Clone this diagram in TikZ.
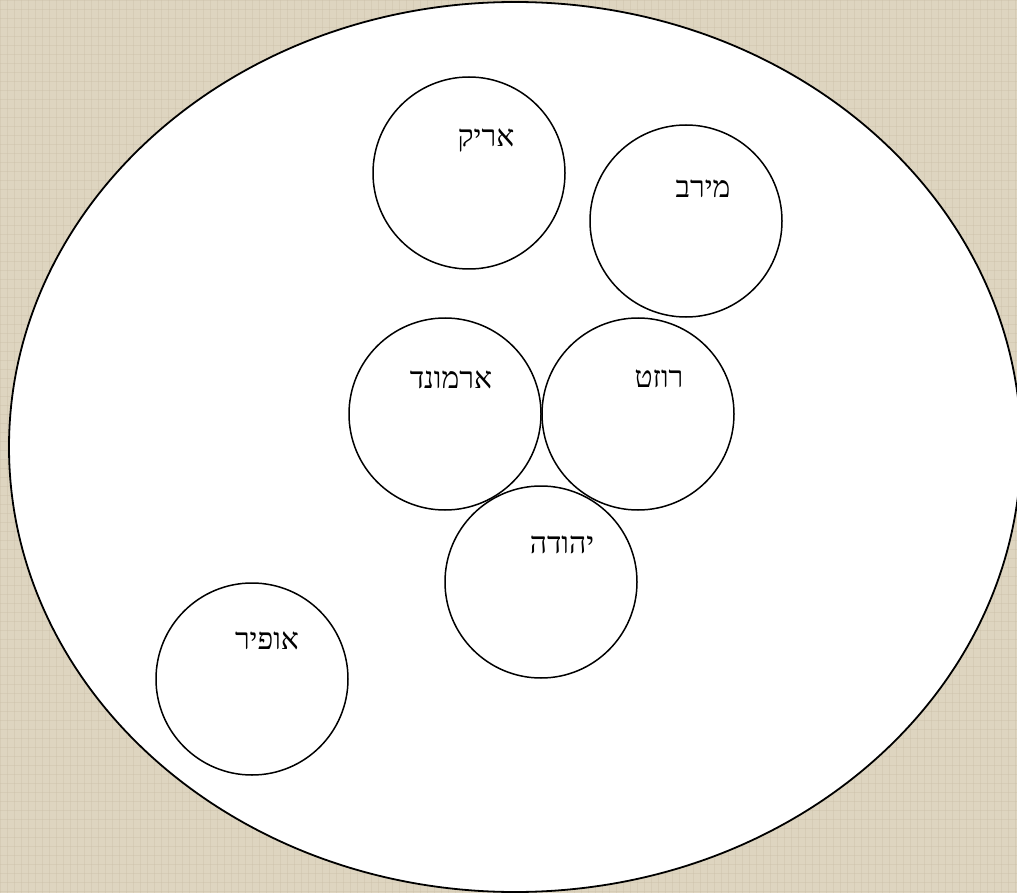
\documentclass[tikz,border=0pt]{standalone}
\usepackage{fontspec}
\usetikzlibrary{shapes.geometric}
\newfontfamily\hebfont[Script=Hebrew]{Liberation Serif}
\TeXXeTstate=1
\definecolor{bgbeige}{RGB}{222,213,192}
\definecolor{bgdark}{RGB}{200,189,165}
\begin{document}
\begin{tikzpicture}[x=1pt,y=-1pt,
  person/.style={circle,draw=black,line width=1.5pt,fill=white,minimum size=192pt,inner sep=0pt},
  namelabel/.style={font=\hebfont\fontsize{30}{34}\selectfont,inner sep=0pt}]
\useasboundingbox (0,0) rectangle (1017,893);
\fill[bgbeige] (0,0) rectangle (1017,893);
\begin{scope}
\clip (0,0) rectangle (1017,893);
\foreach \i in {0,7,...,1017} {\draw[bgdark,line width=0.6pt,opacity=0.35] (\i,0) -- (\i,893);}
\foreach \j in {0,9,...,893} {\draw[bgdark,line width=0.6pt,opacity=0.35] (0,\j) -- (1017,\j);}
\node[ellipse,draw=black,line width=1.8pt,fill=white,minimum width=1012pt,minimum height=890pt,inner sep=0pt] (world) at (515,447) {};
\end{scope}
\node[person] (arik) at (469,173) {};
\node[person] (merav) at (686,221) {};
\node[person] (armond) at (445,414) {};
\node[person] (rozet) at (638,414) {};
\node[person] (yehuda) at (541,582) {};
\node[person] (ofir) at (252,679) {};
\node[namelabel] (arikt) at (486,140) {\beginR אריק\endR};
\node[namelabel] (meravt) at (703,189) {\beginR מירב\endR};
\node[namelabel] (armondt) at (451,380) {\beginR ארמונד\endR};
\node[namelabel] (rozett) at (659,379) {\beginR רוזט\endR};
\node[namelabel] (yehudat) at (562,545) {\beginR יהודה\endR};
\node[namelabel] (ofirt) at (267,641) {\beginR אופיר\endR};
\end{tikzpicture}
\end{document}
